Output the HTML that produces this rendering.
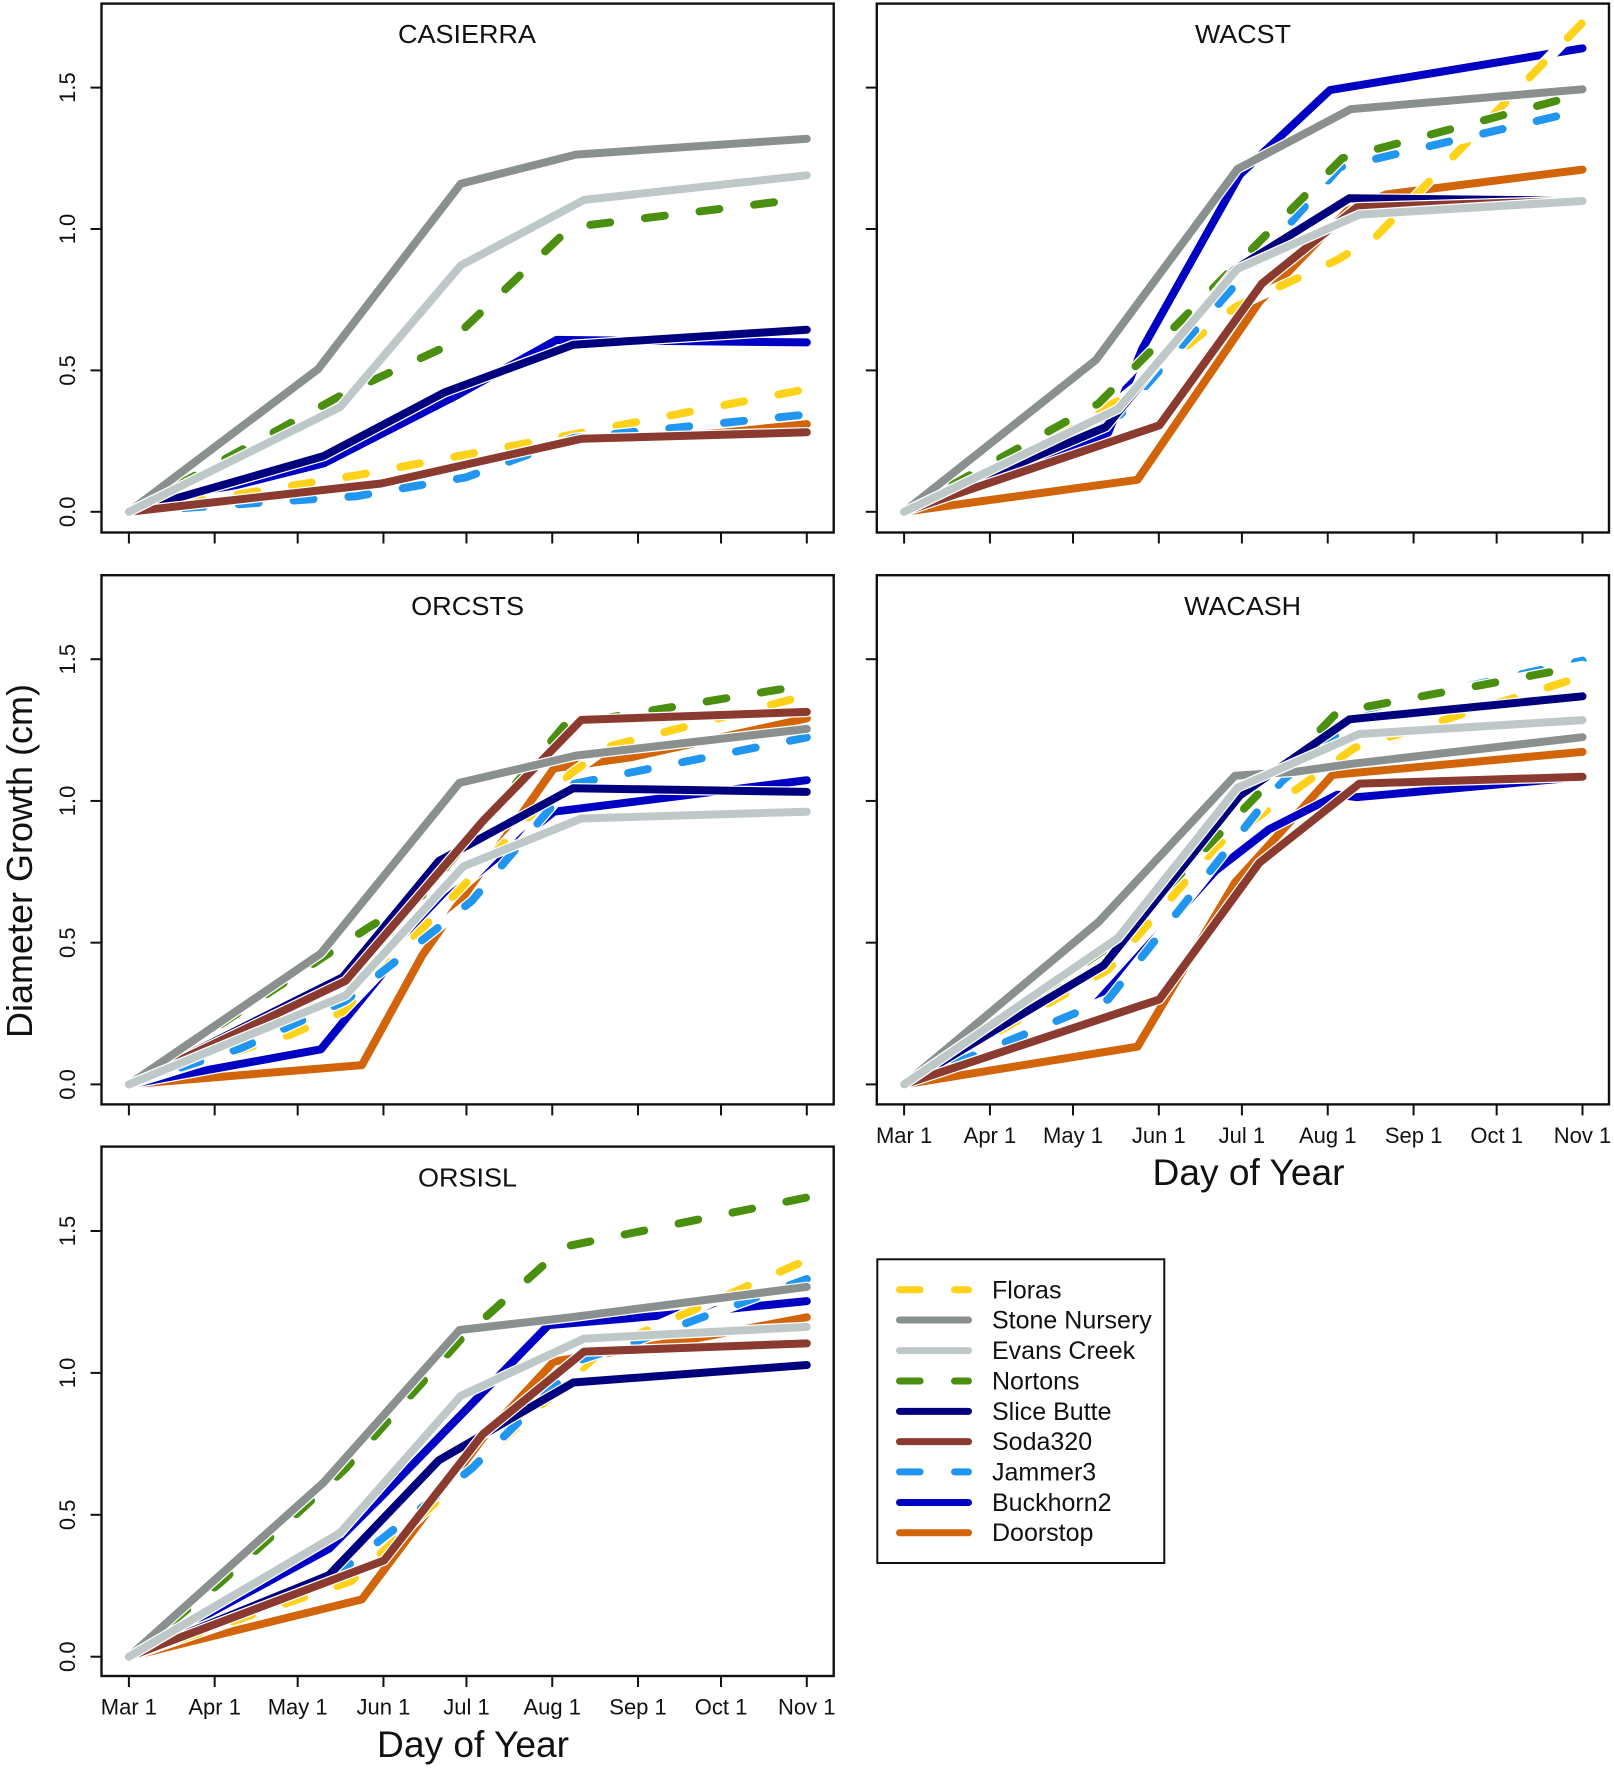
<!DOCTYPE html>
<html lang="en">
<head>
<meta charset="utf-8">
<title>Diameter Growth by Day of Year</title>
<style>
html,body{margin:0;padding:0;background:#fff;}
svg{display:block;font-family:"Liberation Sans",Arial,sans-serif;}
text{fill:#111;}
</style>
</head>
<body>
<svg id="chart" xmlns="http://www.w3.org/2000/svg" width="1614" height="1772" viewBox="0 0 1614 1772">
  <rect x="0" y="0" width="1614" height="1772" fill="#fff"/>
  <g id="panels"></g>

  <text x="467" y="43" font-size="26" text-anchor="middle" textLength="138" lengthAdjust="spacingAndGlyphs">CASIERRA</text>
  <text x="1243" y="43" font-size="26" text-anchor="middle" textLength="96" lengthAdjust="spacingAndGlyphs">WACST</text>
  <text x="467.6" y="615" font-size="26" text-anchor="middle" textLength="113" lengthAdjust="spacingAndGlyphs">ORCSTS</text>
  <text x="1242.6" y="615" font-size="26" text-anchor="middle" textLength="117" lengthAdjust="spacingAndGlyphs">WACASH</text>
  <text x="467.5" y="1186.5" font-size="26" text-anchor="middle" textLength="99" lengthAdjust="spacingAndGlyphs">ORSISL</text>

  <text font-size="36" text-anchor="middle" transform="translate(32,861) rotate(-90)">Diameter Growth (cm)</text>
  <text x="1248.5" y="1185" font-size="37" text-anchor="middle" textLength="192" lengthAdjust="spacingAndGlyphs">Day of Year</text>
  <text x="473" y="1757" font-size="37" text-anchor="middle" textLength="192" lengthAdjust="spacingAndGlyphs">Day of Year</text>

  <g>
    <rect x="877.3" y="1259.3" width="287" height="303.7" fill="#fff" stroke="#111" stroke-width="2"/>
    <g>
      <line x1="899.5" x2="968.5" y1="1289.8" y2="1289.8" stroke="#ffd21a" stroke-width="7" stroke-linecap="round" stroke-dasharray="20.6 34.4"/>
      <text x="992" y="1298.3" font-size="25">Floras</text>
    </g>
    <g>
      <line x1="899.5" x2="968.5" y1="1320" y2="1320" stroke="#8a9090" stroke-width="7" stroke-linecap="round"/>
      <text x="992" y="1328.5" font-size="25">Stone Nursery</text>
    </g>
    <g>
      <line x1="899.5" x2="968.5" y1="1350.6" y2="1350.6" stroke="#bfc8c8" stroke-width="7" stroke-linecap="round"/>
      <text x="992" y="1359.1" font-size="25">Evans Creek</text>
    </g>
    <g>
      <line x1="899.5" x2="968.5" y1="1381" y2="1381" stroke="#4a8f0f" stroke-width="7" stroke-linecap="round" stroke-dasharray="20.6 34.4"/>
      <text x="992" y="1389.5" font-size="25">Nortons</text>
    </g>
    <g>
      <line x1="899.5" x2="968.5" y1="1411.4" y2="1411.4" stroke="#00007f" stroke-width="7" stroke-linecap="round"/>
      <text x="992" y="1419.9" font-size="25">Slice Butte</text>
    </g>
    <g>
      <line x1="899.5" x2="968.5" y1="1441.6" y2="1441.6" stroke="#8b3a2f" stroke-width="7" stroke-linecap="round"/>
      <text x="992" y="1450.1" font-size="25">Soda320</text>
    </g>
    <g>
      <line x1="899.5" x2="968.5" y1="1471.9" y2="1471.9" stroke="#2196f0" stroke-width="7" stroke-linecap="round" stroke-dasharray="20.6 34.4"/>
      <text x="992" y="1480.4" font-size="25">Jammer3</text>
    </g>
    <g>
      <line x1="899.5" x2="968.5" y1="1502.5" y2="1502.5" stroke="#0000c4" stroke-width="7" stroke-linecap="round"/>
      <text x="992" y="1511" font-size="25">Buckhorn2</text>
    </g>
    <g>
      <line x1="899.5" x2="968.5" y1="1532.7" y2="1532.7" stroke="#d2640a" stroke-width="7" stroke-linecap="round"/>
      <text x="992" y="1541.2" font-size="25">Doorstop</text>
    </g>
  </g>
</svg>
<script>
// ---------- axis data ----------
const xTickDays = [60, 91, 121, 152, 182, 213, 244, 274, 305];
const xTickLabels = ["Mar 1", "Apr 1", "May 1", "Jun 1", "Jul 1", "Aug 1", "Sep 1", "Oct 1", "Nov 1"];
const yTickValues = [0, 0.5, 1, 1.5];
const yTickLabels = ["0.0", "0.5", "1.0", "1.5"];

// ---------- CASIERRA ----------
const casierraDoorstopDays = [60, 151.2, 223.5, 275, 305];
const casierraDoorstopValues = [0, 0.1, 0.258, 0.28, 0.31];
const casierraBuckhornDays = [60, 130.4, 178, 214.6, 305];
const casierraBuckhornValues = [0, 0.171, 0.409, 0.608, 0.599];
const casierraFlorasDays = [60, 142.3, 220.6, 305];
const casierraFlorasValues = [0, 0.129, 0.274, 0.434];
const casierraJammerDays = [60, 142.3, 181.9, 220.6, 305];
const casierraJammerValues = [0, 0.055, 0.122, 0.261, 0.344];
const casierraNortonsDays = [60, 137.3, 174, 219.6, 305];
const casierraNortonsValues = [0, 0.415, 0.582, 1.006, 1.109];
const casierraSliceDays = [60, 130.4, 174, 220.6, 305];
const casierraSliceValues = [0, 0.197, 0.422, 0.591, 0.644];
const casierraSodaDays = [60, 151.2, 223.5, 305];
const casierraSodaValues = [0, 0.1, 0.258, 0.281];
const casierraStoneDays = [60, 128.4, 179.9, 221.5, 305];
const casierraStoneValues = [0, 0.505, 1.16, 1.263, 1.319];
const casierraEvansDays = [60, 136.3, 179.9, 224.5, 305];
const casierraEvansValues = [0, 0.37, 0.871, 1.103, 1.19];

// ---------- WACST ----------
const wacstDoorstopDays = [60, 144.3, 188.3, 220, 234, 305];
const wacstDoorstopValues = [0, 0.113, 0.743, 1.064, 1.122, 1.21];
const wacstBuckhornDays = [60, 133.7, 146, 181.3, 213.8, 305];
const wacstBuckhornValues = [0, 0.28, 0.576, 1.193, 1.491, 1.639];
const wacstFlorasDays = [60, 138, 179.5, 216.5, 230.5, 305];
const wacstFlorasValues = [0, 0.396, 0.724, 0.891, 0.974, 1.73];
const wacstJammerDays = [60, 138.1, 217.3, 305];
const wacstJammerValues = [0, 0.344, 1.218, 1.42];
const wacstNortonsDays = [60, 130.2, 218.2, 305];
const wacstNortonsValues = [0, 0.383, 1.25, 1.478];
const wacstSliceDays = [60, 132.9, 179.5, 220.9, 305];
const wacstSliceValues = [0, 0.3, 0.857, 1.109, 1.1];
const wacstSodaDays = [60, 152.2, 189.2, 223.5, 305];
const wacstSodaValues = [0, 0.306, 0.807, 1.077, 1.1];
const wacstStoneDays = [60, 129.3, 180.4, 221.4, 305];
const wacstStoneValues = [0, 0.537, 1.212, 1.424, 1.494];
const wacstEvansDays = [60, 137.3, 180.4, 224.4, 305];
const wacstEvansValues = [0, 0.364, 0.859, 1.051, 1.099];

// ---------- ORCSTS ----------
const orcstsDoorstopDays = [60, 144.2, 166, 213.6, 241.4, 305];
const orcstsDoorstopValues = [0, 0.068, 0.455, 1.115, 1.154, 1.291];
const orcstsBuckhornDays = [60, 129.4, 172, 213.6, 305];
const orcstsBuckhornValues = [0, 0.124, 0.635, 0.962, 1.073];
const orcstsFlorasDays = [60, 118.5, 137.3, 219.6, 233.4, 305];
const orcstsFlorasValues = [0, 0.176, 0.256, 1.096, 1.192, 1.372];
const orcstsJammerDays = [60, 100.6, 138.3, 183.9, 219.6, 305];
const orcstsJammerValues = [0, 0.128, 0.295, 0.647, 1.058, 1.224];
const orcstsNortonsDays = [60, 146.2, 166, 217.6, 305];
const orcstsNortonsValues = [0, 0.551, 0.667, 1.269, 1.409];
const orcstsSliceDays = [60, 137.3, 172, 220.6, 305];
const orcstsSliceValues = [0, 0.378, 0.788, 1.045, 1.032];
const orcstsSodaDays = [60, 138.3, 187.9, 223.5, 305];
const orcstsSodaValues = [0, 0.365, 0.929, 1.286, 1.314];
const orcstsStoneDays = [60, 129.4, 179.5, 221.5, 305];
const orcstsStoneValues = [0, 0.462, 1.064, 1.16, 1.254];
const orcstsEvansDays = [60, 138.3, 180.9, 223.5, 305];
const orcstsEvansValues = [0, 0.314, 0.769, 0.938, 0.962];

// ---------- WACASH ----------
const wacashDoorstopDays = [60, 144.3, 179.5, 214.7, 305];
const wacashDoorstopValues = [0, 0.133, 0.712, 1.092, 1.173];
const wacashBuckhornDays = [60, 129.3, 172.5, 191.8, 216.5, 223.5, 305];
const wacashBuckhornValues = [0, 0.286, 0.754, 0.9, 1.022, 1.013, 1.085];
const wacashFlorasDays = [60, 133.7, 172.6, 222.6, 305];
const wacashFlorasValues = [0, 0.405, 0.838, 1.187, 1.439];
const wacashJammerDays = [60, 133.7, 196.2, 227, 305];
const wacashJammerValues = [0, 0.3, 1.068, 1.325, 1.495];
const wacashNortonsDays = [60, 135.5, 216.5, 305];
const wacashNortonsValues = [0, 0.496, 1.313, 1.476];
const wacashSliceDays = [60, 132, 181.3, 220.9, 305];
const wacashSliceValues = [0, 0.419, 1.02, 1.288, 1.369];
const wacashSodaDays = [60, 152.2, 188.3, 224.4, 305];
const wacashSodaValues = [0, 0.3, 0.782, 1.061, 1.085];
const wacashStoneDays = [60, 130.2, 179.5, 201.5, 221.7, 305];
const wacashStoneValues = [0, 0.573, 1.089, 1.103, 1.131, 1.225];
const wacashEvansDays = [60, 137.3, 180.4, 224.4, 305];
const wacashEvansValues = [0, 0.517, 1.047, 1.236, 1.285];

// ---------- ORSISL ----------
const orsislDoorstopDays = [60, 144.2, 187.9, 213.6, 261.2, 305];
const orsislDoorstopValues = [0, 0.202, 0.77, 1.04, 1.115, 1.196];
const orsislBuckhornDays = [60, 132.3, 150.2, 211.6, 253.3, 305];
const orsislBuckhornValues = [0, 0.38, 0.554, 1.168, 1.203, 1.253];
const orsislFlorasDays = [60, 140.3, 199.7, 231.5, 305];
const orsislFlorasValues = [0, 0.266, 0.805, 1.082, 1.398];
const orsislJammerDays = [60, 138.3, 183.9, 223.5, 241.4, 305];
const orsislJammerValues = [0, 0.315, 0.663, 1.047, 1.104, 1.331];
const orsislNortonsDays = [60, 92.7, 123.4, 138.3, 179.9, 211.6, 219.6, 305];
const orsislNortonsValues = [0, 0.258, 0.528, 0.663, 1.118, 1.395, 1.449, 1.618];
const orsislSliceDays = [60, 132.3, 172, 220.6, 305];
const orsislSliceValues = [0, 0.287, 0.692, 0.966, 1.028];
const orsislSodaDays = [60, 152.2, 187.9, 224.5, 305];
const orsislSodaValues = [0, 0.339, 0.784, 1.075, 1.104];
const orsislStoneDays = [60, 130.4, 179.5, 219.6, 305];
const orsislStoneValues = [0, 0.614, 1.151, 1.196, 1.303];
const orsislEvansDays = [60, 136.3, 179.9, 224.5, 305];
const orsislEvansValues = [0, 0.436, 0.919, 1.121, 1.162];

// ---------- series styling, in draw order ----------
const seriesSlugs = ["doorstop", "buckhorn2", "floras", "jammer3", "nortons", "slice-butte", "soda320", "stone-nursery", "evans-creek"];
const seriesColors = ["#d2640a", "#0000c4", "#ffd21a", "#2196f0", "#4a8f0f", "#00007f", "#8b3a2f", "#8a9090", "#bfc8c8"];
const seriesDashed = [false, false, true, true, true, false, false, false, false];

// ---------- panels ----------
const panelSeries = [
  [[casierraDoorstopDays, casierraDoorstopValues], [casierraBuckhornDays, casierraBuckhornValues], [casierraFlorasDays, casierraFlorasValues], [casierraJammerDays, casierraJammerValues], [casierraNortonsDays, casierraNortonsValues], [casierraSliceDays, casierraSliceValues], [casierraSodaDays, casierraSodaValues], [casierraStoneDays, casierraStoneValues], [casierraEvansDays, casierraEvansValues]],
  [[wacstDoorstopDays, wacstDoorstopValues], [wacstBuckhornDays, wacstBuckhornValues], [wacstFlorasDays, wacstFlorasValues], [wacstJammerDays, wacstJammerValues], [wacstNortonsDays, wacstNortonsValues], [wacstSliceDays, wacstSliceValues], [wacstSodaDays, wacstSodaValues], [wacstStoneDays, wacstStoneValues], [wacstEvansDays, wacstEvansValues]],
  [[orcstsDoorstopDays, orcstsDoorstopValues], [orcstsBuckhornDays, orcstsBuckhornValues], [orcstsFlorasDays, orcstsFlorasValues], [orcstsJammerDays, orcstsJammerValues], [orcstsNortonsDays, orcstsNortonsValues], [orcstsSliceDays, orcstsSliceValues], [orcstsSodaDays, orcstsSodaValues], [orcstsStoneDays, orcstsStoneValues], [orcstsEvansDays, orcstsEvansValues]],
  [[wacashDoorstopDays, wacashDoorstopValues], [wacashBuckhornDays, wacashBuckhornValues], [wacashFlorasDays, wacashFlorasValues], [wacashJammerDays, wacashJammerValues], [wacashNortonsDays, wacashNortonsValues], [wacashSliceDays, wacashSliceValues], [wacashSodaDays, wacashSodaValues], [wacashStoneDays, wacashStoneValues], [wacashEvansDays, wacashEvansValues]],
  [[orsislDoorstopDays, orsislDoorstopValues], [orsislBuckhornDays, orsislBuckhornValues], [orsislFlorasDays, orsislFlorasValues], [orsislJammerDays, orsislJammerValues], [orsislNortonsDays, orsislNortonsValues], [orsislSliceDays, orsislSliceValues], [orsislSodaDays, orsislSodaValues], [orsislStoneDays, orsislStoneValues], [orsislEvansDays, orsislEvansValues]]
];
const panelSlugs = ["casierra", "wacst", "orcsts", "wacash", "orsisl"];

// Panel geometry: frame box plus pixel anchors for the axes.
const panelFrames = [
  {left: 101.5, right: 833.7, top: 3.6, bottom: 532.5, xStart: 128.9, xEnd: 806.8, yZero: 511.8, yMax: 87.6, xLabels: false, yLabels: true},
  {left: 876.8, right: 1609, top: 3.6, bottom: 532.5, xStart: 904.1, xEnd: 1582.5, yZero: 511.8, yMax: 87.6, xLabels: false, yLabels: false},
  {left: 101.5, right: 833.7, top: 575.2, bottom: 1104.4, xStart: 128.9, xEnd: 806.8, yZero: 1084.4, yMax: 659.2, xLabels: false, yLabels: true},
  {left: 876.8, right: 1609, top: 575.2, bottom: 1104.4, xStart: 904.1, xEnd: 1582.5, yZero: 1084.4, yMax: 659.2, xLabels: true, yLabels: false},
  {left: 101.5, right: 833.7, top: 1146.6, bottom: 1676, xStart: 128.9, xEnd: 806.8, yZero: 1656.7, yMax: 1231, xLabels: true, yLabels: true}
];

const SVG_NS = "http://www.w3.org/2000/svg";
const panelsRoot = document.getElementById("panels");

function make(tag, attrs, parent) {
  const el = document.createElementNS(SVG_NS, tag);
  for (const key in attrs) el.setAttribute(key, attrs[key]);
  parent.appendChild(el);
  return el;
}
function xScale(frame, day) {
  return frame.xStart + (day - 60) / (305 - 60) * (frame.xEnd - frame.xStart);
}
function yScale(frame, value) {
  return frame.yZero - value / 1.5 * (frame.yZero - frame.yMax);
}

panelFrames.forEach(function (frame, p) {
  const slug = panelSlugs[p];
  const group = make("g", {}, panelsRoot);
  
  

  // series: each line sits on a white casing, which also shows through dash gaps
  panelSeries[p].forEach(function (pair, s) {
    const pts = pair[0].map(function (day, i) {
      return xScale(frame, day).toFixed(1) + "," + yScale(frame, pair[1][i]).toFixed(1);
    }).join(" ");
    const casing = make("polyline", {points: pts, fill: "none", stroke: "#fff", "stroke-width": 10.5, "stroke-linecap": "round", "stroke-linejoin": "round"}, group);
    
    
    const line = make("polyline", {points: pts, fill: "none", stroke: seriesColors[s], "stroke-width": 8, "stroke-linecap": "round", "stroke-linejoin": "round"}, group);
    if (seriesDashed[s]) line.setAttribute("stroke-dasharray", "20 35");
    
    
  });

  // frame
  const box = make("rect", {x: frame.left, y: frame.top, width: frame.right - frame.left, height: frame.bottom - frame.top, fill: "none", stroke: "#111", "stroke-width": 2.4}, group);
  
  

  // x ticks
  xTickDays.forEach(function (day, i) {
    const x = xScale(frame, day);
    const tick = make("line", {x1: x, x2: x, y1: frame.bottom, y2: frame.bottom + 11, stroke: "#111", "stroke-width": 2}, group);
    
    
    if (frame.xLabels) {
      const label = make("text", {x: x, y: frame.bottom + 38.5, "font-size": 22, "text-anchor": "middle"}, group);
      label.textContent = xTickLabels[i];
      
      
    }
  });

  // y ticks
  yTickValues.forEach(function (value, i) {
    const y = yScale(frame, value);
    const tick = make("line", {x1: frame.left - 11, x2: frame.left, y1: y, y2: y, stroke: "#111", "stroke-width": 2}, group);
    
    
    if (frame.yLabels) {
      const label = make("text", {"font-size": 22, "text-anchor": "middle", transform: "translate(75," + y.toFixed(1) + ") rotate(-90)"}, group);
      label.textContent = yTickLabels[i];
      
      
    }
  });
});
</script>
</body>
</html>
